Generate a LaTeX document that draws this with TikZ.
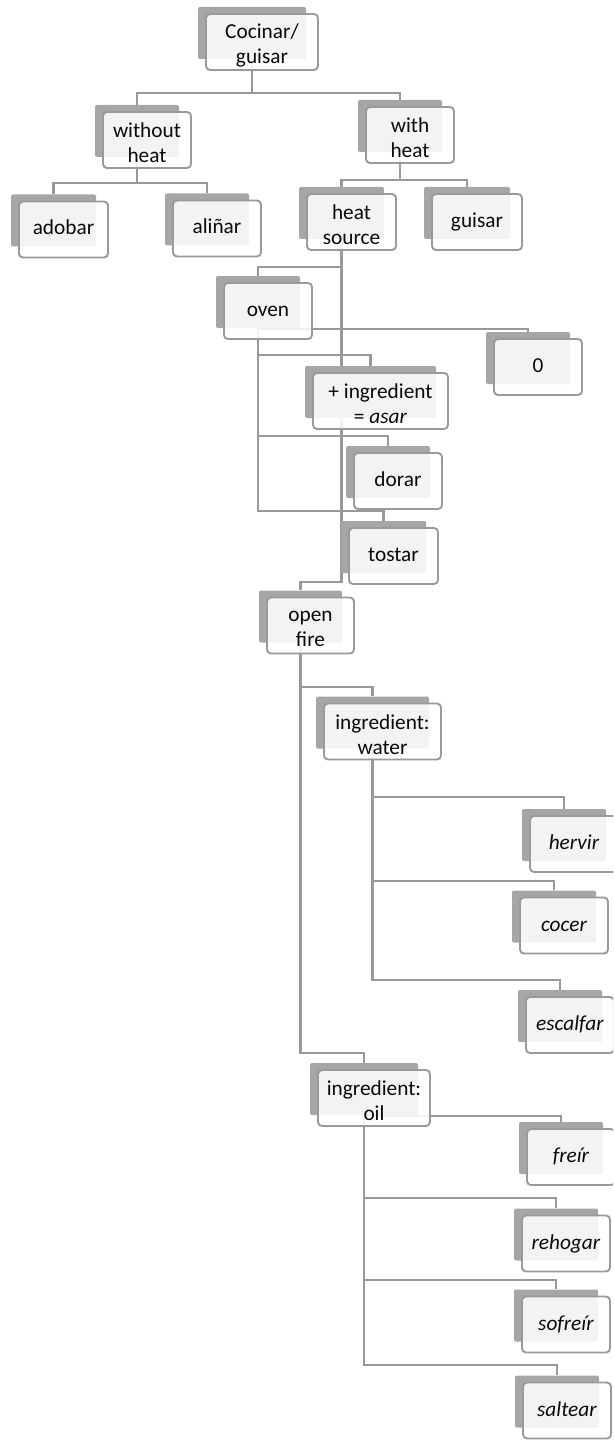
\documentclass[tikz,border=0pt]{standalone}
\usepackage{fontspec}
\setmainfont{Carlito}
\definecolor{backgray}{HTML}{A6A6A6}
\definecolor{bordergray}{HTML}{9A9A9A}
\definecolor{linegray}{HTML}{999999}
\definecolor{textblack}{HTML}{0A0A0A}
\pgfdeclarelayer{bg}
\pgfsetlayers{bg,main}
\tikzset{
  backbox/.style={fill=backgray, inner sep=0pt, minimum height=52pt, rounded corners=2pt},
  frontbox/.style={fill=white, fill opacity=0.87, draw=bordergray, draw opacity=1,
    line width=1.9pt, rounded corners=4pt, inner sep=0pt, minimum height=56pt},
  lbl/.style={inner sep=0pt, align=center, font=\fontsize{21.3}{25}\selectfont, text=textblack},
  oneline/.style={lbl, text height=15pt, text depth=4pt},
  twoline/.style={lbl, yshift=-3pt},
  conn/.style={draw=linegray, line width=2.4pt}
}
% #1 kind, #2 name, #3 cx, #4 cy, #5 width, #6 text
\newcommand\bx[6]{%
  \node[backbox, minimum width={#5pt-4pt}] (#2) at ({#3-10},{#4-9}) {};
  \node[frontbox, minimum width={#5pt}] (#2f) at (#3,#4) {};
  \node[#1] (#2t) at (#2f.center) {#6};
}
\begin{document}
\begin{tikzpicture}[x=1pt,y=-1pt]
\useasboundingbox (0,0) rectangle (613,1447);
\clip (0,0) rectangle (613,1447);
\bx{twoline}{c}{262}{42}{112}{Cocinar/\\guisar}
\bx{twoline}{wo}{147}{140}{88}{without\\heat}
\bx{twoline}{wi}{410}{135}{88}{with\\heat}
\bx{oneline}{ad}{63.5}{229.5}{89}{adobar}
\bx{oneline}{al}{217}{228.5}{88}{aliñar}
\bx{twoline}{hs}{351.5}{222}{89}{heat\\source}
\bx{oneline}{gu}{477}{222}{90}{guisar}
\bx{oneline}{ov}{268}{311}{88}{oven}
\bx{oneline}{zero}{538}{367}{88}{0}
\bx{twoline}{asar}{380.5}{401}{135}{+ ingredient\\= \textit{asar}}
\bx{oneline}{dor}{398}{481}{88}{dorar}
\bx{oneline}{tos}{393.5}{556}{89}{tostar}
\bx{twoline}{of}{310.5}{625.5}{87}{open\\fire}
\bx{twoline}{wa}{382.5}{731.5}{117}{ingredient:\\water}
\bx{oneline}{her}{574}{844}{88}{\textit{hervir}}
\bx{oneline}{coc}{564}{925.5}{88}{\textit{cocer}}
\bx{oneline}{esc}{570}{1025}{88}{\textit{escalfar}}
\bx{twoline}{oil}{374}{1098}{112}{ingredient:\\oil}
\bx{oneline}{fre}{571}{1157}{88}{\textit{freír}}
\bx{oneline}{reh}{566}{1243.5}{88}{\textit{rehogar}}
\bx{oneline}{sof}{566}{1324.5}{88}{\textit{sofreír}}
\bx{oneline}{sal}{567}{1410.5}{88}{\textit{saltear}}
\begin{pgfonlayer}{bg}
\draw[conn] (c.south) -- (c.south |- 0,93) -| (wo.north);
\draw[conn] (c.south |- 0,93) -| (wi.north);
\draw[conn] (wo.south) -- (wo.south |- 0,183) -| (ad.north);
\draw[conn] (wo.south |- 0,183) -| (al.north);
\draw[conn] (wi.south) -- (wi.south |- 0,180) -| (hs.north);
\draw[conn] (wi.south |- 0,180) -| (gu.north);
\draw[conn] (hs.south) -- (hs.south |- 0,267) -| (ov.north);
\draw[conn] (hs.south |- 0,267) -- (hs.south |- 0,582) -| (of.north);
\draw[conn] (ov.south) -- (ov.south |- 0,329) -| (zero.north);
\draw[conn] (ov.south |- 0,329) -- (ov.south |- 0,355) -| (asar.north);
\draw[conn] (ov.south |- 0,355) -- (ov.south |- 0,436) -| (dor.north);
\draw[conn] (ov.south |- 0,436) -- (ov.south |- 0,511) -| (tos.north);
\draw[conn] (of.south) -- (of.south |- 0,687) -| (wa.north);
\draw[conn] (of.south |- 0,687) -- (of.south |- 0,1053) -| (oil.north);
\draw[conn] (wa.south) -- (wa.south |- 0,797) -| (her.north);
\draw[conn] (wa.south |- 0,797) -- (wa.south |- 0,881) -| (coc.north);
\draw[conn] (wa.south |- 0,881) -- (wa.south |- 0,980) -| (esc.north);
\draw[conn] (oil.south) -- (oil.south |- 0,1116) -| (fre.north);
\draw[conn] (oil.south |- 0,1116) -- (oil.south |- 0,1198) -| (reh.north);
\draw[conn] (oil.south |- 0,1198) -- (oil.south |- 0,1280) -| (sof.north);
\draw[conn] (oil.south |- 0,1280) -- (oil.south |- 0,1365) -| (sal.north);
\end{pgfonlayer}
\end{tikzpicture}
\end{document}
